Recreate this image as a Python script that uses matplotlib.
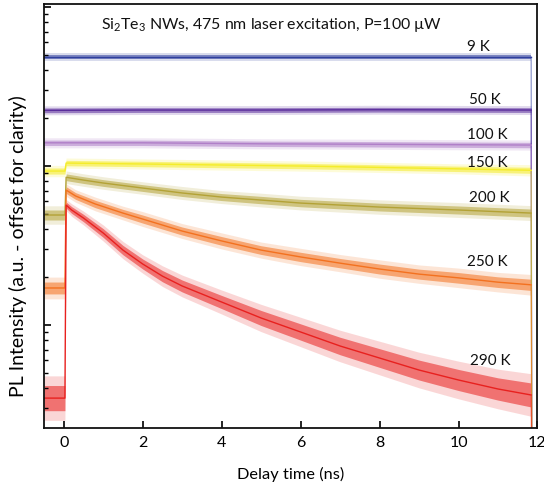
import numpy as np
import matplotlib
matplotlib.use("Agg")
import matplotlib.pyplot as plt

plt.rcParams['font.family'] = ['Lato', 'DejaVu Sans']
plt.rcParams['mathtext.fontset'] = 'custom'
plt.rcParams['mathtext.rm'] = 'Lato'

# ---- data (PL intensity in a.u., offset, log scale) ----
labels = ["9 K", "50 K", "100 K", "150 K", "200 K", "250 K", "290 K"]
colors = ["#2f3f9e", "#5a2d9c", "#b07fc8", "#f4ec2a", "#b3a236", "#f3711f", "#e8211f"]

t_9 = [-0.5, 2.0, 5.0, 8.0, 11.84]
v_9 = [485, 485, 485, 485, 485]
n_9 = [0.035, 0.035, 0.035, 0.035, 0.035]

t_50 = [-0.5, 2.0, 5.0, 8.0, 11.84]
v_50 = [224, 225, 225, 226, 225]
n_50 = [0.035, 0.035, 0.035, 0.035, 0.035]

t_100 = [-0.5, 0.03, 2.0, 5.0, 8.0, 11.84]
v_100 = [140, 140, 140, 138, 137, 135.5]
n_100 = [0.04, 0.04, 0.04, 0.04, 0.04, 0.04]

t_150 = [-0.5, 0.03, 0.06, 2.0, 4.0, 6.0, 8.0, 10.0, 11.84]
v_150 = [93.0, 93.0, 104.4, 103.0, 101.5, 100.0, 98.0, 96.0, 94.0]
n_150 = [0.045, 0.045, 0.04, 0.04, 0.04, 0.04, 0.04, 0.04, 0.045]

t_200 = [-0.5, 0.03, 0.06, 0.5, 1.0, 2.0, 3.0, 4.0, 5.0, 6.0, 8.0, 10.0, 11.84]
v_200 = [49.2, 49.2, 85.0, 81.6, 78.2, 72.7, 67.7, 63.8, 61.1, 58.5, 55.2, 52.9, 50.6]
n_200 = [0.075, 0.075, 0.05, 0.05, 0.05, 0.05, 0.052, 0.052, 0.055, 0.055, 0.058, 0.06, 0.06]

t_250 = [-0.5, 0.03, 0.06, 0.3, 0.8, 1.5, 2.0, 3.0, 4.0, 5.0, 6.0, 7.0, 8.0, 9.0, 10.0, 11.0, 11.84]
v_250 = [17.1, 17.1, 70.6, 64.8, 57.7, 50.6, 46.4, 39.0, 33.8, 29.6, 26.8, 24.5, 22.5, 20.9, 19.8, 18.6, 17.9]
n_250 = [0.09, 0.09, 0.05, 0.05, 0.055, 0.055, 0.06, 0.06, 0.065, 0.065, 0.07, 0.07, 0.075, 0.075, 0.08, 0.08, 0.085]

t_290 = [-0.5, 0.03, 0.06, 0.2, 0.5, 1.0, 1.5, 2.0, 2.5, 3.0, 4.0, 5.0, 6.0, 7.0, 8.0, 9.0, 10.0, 11.0, 11.84]
v_290 = [3.47, 3.47, 56.8, 52.9, 47.1, 37.9, 29.6, 24.2, 20.3, 17.6, 13.95, 11.07, 9.04, 7.38, 6.20, 5.21, 4.51, 3.96, 3.63]
n_290 = [0.2, 0.2, 0.045, 0.05, 0.055, 0.065, 0.07, 0.075, 0.085, 0.09, 0.1, 0.115, 0.125, 0.135, 0.145, 0.155, 0.165, 0.175, 0.19]

series = [(t_9, v_9, n_9), (t_50, v_50, n_50), (t_100, v_100, n_100),
          (t_150, v_150, n_150), (t_200, v_200, n_200), (t_250, v_250, n_250),
          (t_290, v_290, n_290)]

label_x = [10.22, 10.27, 10.22, 10.22, 10.27, 10.22, 10.3]
label_y = [560, 262, 156, 105, 63, 25.0, 5.9]

xticks = [0, 2, 4, 6, 8, 10, 12]
end_t = 11.86
floor_v = 0.5

# ---- figure ----
fig = plt.figure(figsize=(5.44, 4.90), dpi=100)
ax = fig.add_axes([0.0809, 0.1265, 0.9071, 0.8653])

for (t, v, n), c in zip(series, colors):
    t = np.array(t, float)
    v = np.array(v, float)
    n = np.array(n, float)
    # outer faint band for noise spikes, inner denser band
    ax.fill_between(t, v / (1 + 1.9 * n), v * (1 + 1.9 * n), color=c, alpha=0.18, lw=0)
    ax.fill_between(t, v / (1 + n), v * (1 + n), color=c, alpha=0.55, lw=0)
    ax.plot(t, v, color=c, lw=1.0)
    # drop of the trace at the end of the time window
    ax.plot([t[-1], end_t], [v[-1], floor_v], color=c, lw=0.8, alpha=0.6)

for lab, x, y in zip(labels, label_x, label_y):
    ax.text(x, y, lab, fontsize=11, ha='left', va='center', color='#111111')

ax.text(0.462, 0.950, "Si$_{\\mathregular{2}}$Te$_{\\mathregular{3}}$ NWs, 475 nm laser excitation, P=100 \u00b5W",
        transform=ax.transAxes, ha='center', va='center', fontsize=11.4, color='#111111')

ax.set_yscale('log')
ax.set_ylim(2.25, 1045)
ax.set_xlim(-0.5, 12)
ax.set_xticks(xticks)
ax.set_xticklabels([str(x) for x in xticks], fontsize=11.5)
ax.yaxis.set_major_formatter(matplotlib.ticker.NullFormatter())
ax.yaxis.set_minor_formatter(matplotlib.ticker.NullFormatter())
ax.tick_params(axis='x', direction='in', length=5, width=1.2, pad=6, top=False)
ax.tick_params(axis='y', which='major', direction='in', length=5, width=1.2, right=False)
ax.tick_params(axis='y', which='minor', direction='in', length=3, width=1.0, right=False)
ax.tick_params(axis='x', which='minor', bottom=False)
for s in ax.spines.values():
    s.set_linewidth(1.3)
    s.set_color('#111111')

ax.set_xlabel("Delay time (ns)", fontsize=11.8, labelpad=12)
ax.set_ylabel("PL Intensity (a.u. - offset for clarity)", fontsize=14)
ax.yaxis.set_label_coords(-0.034, 0.43)

fig.savefig("out.png", dpi=100)
